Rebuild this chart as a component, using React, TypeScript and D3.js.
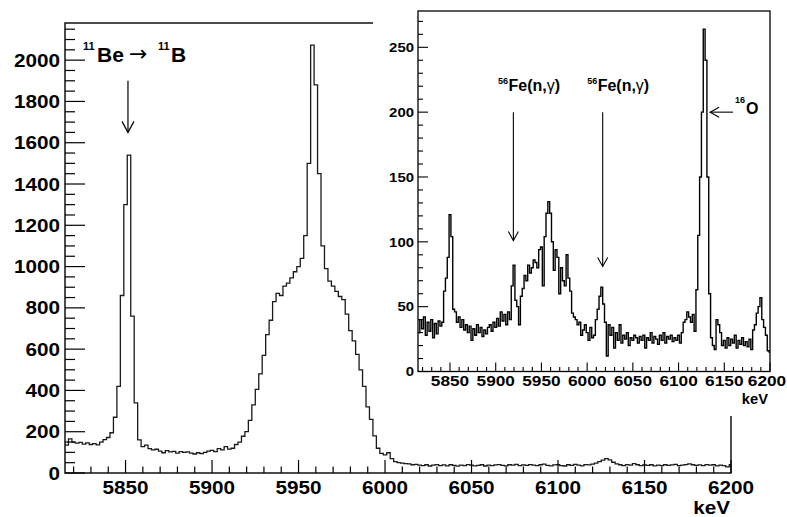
import React from 'react';
import * as d3 from 'd3';

// ---- data (2 keV bins starting at 5815 keV) ----
const BIN_START = 5815;
const BIN_WIDTH = 2;

const mainCounts = [
  135, 165, 150, 145, 148, 140, 146, 138, 142, 136, 150, 162, 172, 195, 270, 420, 860, 1300, 1540, 760,
  340, 160, 128, 135, 118, 112, 115, 106, 98, 108, 102, 105, 96, 104, 100, 102, 96, 92, 98, 94,
  100, 106, 110, 104, 118, 112, 128, 116, 120, 138, 150, 178, 200, 255, 330, 405, 480, 570, 670, 740,
  830, 870, 860, 905, 920, 945, 975, 1000, 1040, 1150, 1500, 2073, 1880, 1450, 1100, 990, 930, 905, 880, 855,
  840, 770, 690, 640, 575, 500, 420, 320, 260, 180, 120, 95, 88, 98, 70, 55, 50, 48, 45, 44,
  40, 42, 38, 36, 40, 34, 38, 41, 36, 39, 35, 40, 37, 33, 38, 36, 41, 38, 35, 37,
  40, 34, 38, 36, 39, 41, 37, 35, 40, 38, 42, 36, 39, 37, 41, 38, 36, 40, 43, 37,
  35, 39, 41, 36, 34, 40, 37, 42, 38, 35, 41, 39, 43, 48, 55, 62, 70, 64, 52, 44,
  40, 36, 41, 38, 45, 40, 36, 39, 37, 40, 35, 38, 36, 40, 37, 39, 42, 36, 38, 41,
  44, 40, 37, 39, 36, 41, 38, 40, 35, 38, 36, 30, 40,
];

const insetCounts = [
  30, 40, 33, 42, 28, 38, 31, 40, 26, 37, 29, 39, 35, 38, 62, 72, 88, 121, 104, 48,
  46, 38, 42, 34, 40, 32, 36, 30, 35, 24, 33, 28, 36, 30, 34, 27, 32, 29, 34, 36,
  31, 38, 34, 41, 35, 46, 39, 44, 36, 46, 40, 66, 82, 55, 50, 36, 58, 64, 74, 70,
  82, 76, 80, 86, 84, 80, 94, 96, 66, 104, 122, 131, 122, 100, 78, 94, 88, 60, 80, 70,
  66, 90, 72, 62, 45, 42, 40, 36, 38, 28, 32, 36, 30, 24, 34, 26, 28, 40, 48, 58,
  65, 52, 38, 12, 36, 28, 34, 18, 30, 24, 36, 22, 28, 25, 30, 20, 26, 24, 28, 26,
  22, 27, 24, 28, 18, 26, 24, 30, 22, 27, 25, 21, 28, 24, 30, 22, 27, 25, 28, 23,
  26, 24, 28, 22, 30, 38, 40, 46, 42, 38, 44, 31, 63, 105, 150, 200, 264, 240, 150, 60,
  26, 20, 17, 40, 36, 30, 20, 24, 18, 26, 20, 25, 22, 28, 18, 24, 21, 26, 20, 23,
  19, 25, 17, 32, 36, 45, 50, 57, 40, 34, 28, 16, 15,
];

const xTickLabels = [5850, 5900, 5950, 6000, 6050, 6100, 6150, 6200];
const mainYTickLabels = [0, 200, 400, 600, 800, 1000, 1200, 1400, 1600, 1800, 2000];
const insetYTickLabels = [0, 50, 100, 150, 200, 250];

// annotation anchors in data units
const beArrow = { keV: 5851.4, from: 1900, to: 1650 };
const beLabel = { keV: 5825.4, count: 1990 };
const feArrows = [
  { keV: 5919.3, from: 200, to: 101 },
  { keV: 6017, from: 200, to: 81 },
];
const feLabels = [
  { keV: 5902.5, count: 216 },
  { keV: 6000, count: 216 },
];
const oArrow = { tipKeV: 6134.5, tailKeV: 6159.6, count: 200 };
const oLabel = { keV: 6164, count: 200 };

const FONT = '"Liberation Sans", Arial, Helvetica, sans-serif';
const W = 787;
const H = 517;

function stepPath(counts: number[], x: any, y: any) {
  const pts: [number, number][] = counts.map((c, i) => [BIN_START + i * BIN_WIDTH, c]);
  pts.push([BIN_START + counts.length * BIN_WIDTH, counts[counts.length - 1]]);
  return d3
    .line<[number, number]>()
    .x((d) => x(d[0]))
    .y((d) => y(d[1]))
    .curve(d3.curveStepAfter)(pts) as string;
}

function T(props: any) {
  const { x, y, size, anchor = 'start', sx = 1, weight = 'bold', family = FONT, children } = props;
  return (
    <text
      transform={`translate(${x},${y}) scale(${sx},1)`}
      fontSize={size}
      textAnchor={anchor}
      fontWeight={weight}
      fontFamily={family}
      fill="#000"
    >
      {children}
    </text>
  );
}

export default function App() {
  // main frame
  const mx = d3.scaleLinear().domain([5815, 6200]).range([65, 731]);
  const my = d3.scaleLinear().domain([0, 2180]).range([473, 23]);
  // inset frame
  const ix = d3.scaleLinear().domain([5815, 6200]).range([418, 770]);
  const iy = d3.scaleLinear().domain([0, 278]).range([371.5, 11]);

  const mainXTicks = d3.range(5820, 6201, 10);
  const mainYTicks = d3.range(0, 2151, 50);
  const insetXTicks = d3.range(5820, 6201, 10);
  const insetYTicks = d3.range(0, 271, 10);

  const mainPath = stepPath(mainCounts, mx, my);
  const insetPath = stepPath(insetCounts, ix, iy);

  const [mx0, mx1] = mx.range();
  const [myB, myT] = my.range();
  const [ix0, ix1] = ix.range();
  const [iyB, iyT] = iy.range();

  return (
    <svg
      width={W}
      height={H}
      style={{ position: 'absolute', left: 0, top: 0, background: '#fff' }}
    >
      <defs>
        <clipPath id="mainClip">
          <rect x={mx0} y={myT} width={mx1 - mx0} height={myB - myT} />
        </clipPath>
        <clipPath id="insetClip">
          <rect x={ix0} y={iyT} width={ix1 - ix0} height={iyB - iyT} />
        </clipPath>
      </defs>
      <rect x={0} y={0} width={W} height={H} fill="#fff" />

      {/* ---------- main plot ---------- */}
      <path d={mainPath} fill="none" stroke="#1a1a1a" strokeWidth={1.3} clipPath="url(#mainClip)" />
      <rect x={mx0} y={myT} width={mx1 - mx0} height={myB - myT} fill="none" stroke="#000" strokeWidth={1.4} />
      {mainXTicks.map((t) => {
        const major = t % 50 === 0;
        return (
          <line key={'mxt' + t} x1={mx(t)} x2={mx(t)} y1={myB} y2={myB - (major ? 13 : 6.5)} stroke="#000" strokeWidth={1.2} />
        );
      })}
      {mainYTicks.map((t) => {
        const major = t % 200 === 0;
        return (
          <line key={'myt' + t} x1={mx0} x2={mx0 + (major ? 20 : 10)} y1={my(t)} y2={my(t)} stroke="#000" strokeWidth={1.2} />
        );
      })}
      {xTickLabels.map((t) => (
        <T key={'mxl' + t} x={mx(t)} y={494} size={18} sx={1.15} anchor="middle">
          {t}
        </T>
      ))}
      {mainYTickLabels.map((t) => (
        <T key={'myl' + t} x={60} y={my(t) + 6.5} size={18} sx={1.15} anchor="end">
          {t}
        </T>
      ))}
      <T x={730} y={514} size={18} sx={1.15} anchor="end">keV</T>

      {/* 11Be -> 11B label and arrow */}
      <g transform={`translate(${mx(beLabel.keV)},${my(beLabel.count)})`}>
        <T x={0} y={-12} size={11}>11</T>
        <T x={14} y={0} size={21}>Be</T>
        <T x={46} y={-1} size={22} weight="normal" family='"DejaVu Sans", sans-serif'>→</T>
        <T x={75} y={-12} size={11}>11</T>
        <T x={88} y={0} size={21}>B</T>
      </g>
      <g stroke="#000" strokeWidth={1.2} fill="none">
        <line x1={mx(beArrow.keV)} x2={mx(beArrow.keV)} y1={my(beArrow.from)} y2={my(beArrow.to)} />
        <polyline
          points={`${mx(beArrow.keV) - 6},${my(beArrow.to) - 11} ${mx(beArrow.keV)},${my(beArrow.to)} ${mx(beArrow.keV) + 6},${my(beArrow.to) - 11}`}
        />
      </g>

      {/* ---------- inset pad ---------- */}
      <rect x={373} y={0} width={W - 373} height={416} fill="#fff" />
      <path d={insetPath} fill="none" stroke="#000" strokeWidth={1.4} clipPath="url(#insetClip)" />
      <rect x={ix0} y={iyT} width={ix1 - ix0} height={iyB - iyT} fill="none" stroke="#000" strokeWidth={1.3} />
      {insetXTicks.map((t) => {
        const major = t % 50 === 0;
        return (
          <line key={'ixt' + t} x1={ix(t)} x2={ix(t)} y1={iyB} y2={iyB - (major ? 9 : 4.5)} stroke="#000" strokeWidth={1.1} />
        );
      })}
      {insetYTicks.map((t) => {
        const major = t % 50 === 0;
        return (
          <line key={'iyt' + t} x1={ix0} x2={ix0 + (major ? 10 : 5)} y1={iy(t)} y2={iy(t)} stroke="#000" strokeWidth={1.1} />
        );
      })}
      {xTickLabels.map((t) => (
        <T key={'ixl' + t} x={Math.min(ix(t), W - 20)} y={386} size={15} sx={1.15} anchor="middle">
          {t}
        </T>
      ))}
      {insetYTickLabels.map((t) => (
        <T key={'iyl' + t} x={414} y={iy(t) + 4.8} size={13} sx={1.15} anchor="end">
          {t}
        </T>
      ))}
      <T x={768} y={404} size={14} sx={1.05} anchor="end">keV</T>

      {/* Fe(n,gamma) labels and arrows */}
      {feLabels.map((l, i) => (
        <g key={'fel' + i} transform={`translate(${ix(l.keV)},${iy(l.count)})`}>
          <T x={0} y={-7.5} size={9}>56</T>
          <text x={10.5} y={0} fontSize={16} fontWeight="bold" fontFamily={FONT} fill="#000">
            <tspan>Fe(n,</tspan>
            <tspan fontWeight="normal">γ</tspan>
            <tspan>)</tspan>
          </text>
        </g>
      ))}
      {feArrows.map((a, i) => (
        <g key={'fea' + i} stroke="#000" strokeWidth={1.1} fill="none">
          <line x1={ix(a.keV)} x2={ix(a.keV)} y1={iy(a.from)} y2={iy(a.to)} />
          <polyline points={`${ix(a.keV) - 5},${iy(a.to) - 9} ${ix(a.keV)},${iy(a.to)} ${ix(a.keV) + 5},${iy(a.to) - 9}`} />
        </g>
      ))}

      {/* 16O arrow and label */}
      <g stroke="#000" strokeWidth={1.1} fill="none">
        <line x1={ix(oArrow.tipKeV)} x2={ix(oArrow.tailKeV)} y1={iy(oArrow.count)} y2={iy(oArrow.count)} />
        <polyline
          points={`${ix(oArrow.tipKeV) + 9},${iy(oArrow.count) - 5} ${ix(oArrow.tipKeV)},${iy(oArrow.count)} ${ix(oArrow.tipKeV) + 9},${iy(oArrow.count) + 5}`}
        />
      </g>
      <g transform={`translate(${ix(oLabel.keV)},${iy(oLabel.count)})`}>
        <T x={-2} y={-9} size={9}>16</T>
        <T x={9} y={2} size={16}>O</T>
      </g>
    </svg>
  );
}
